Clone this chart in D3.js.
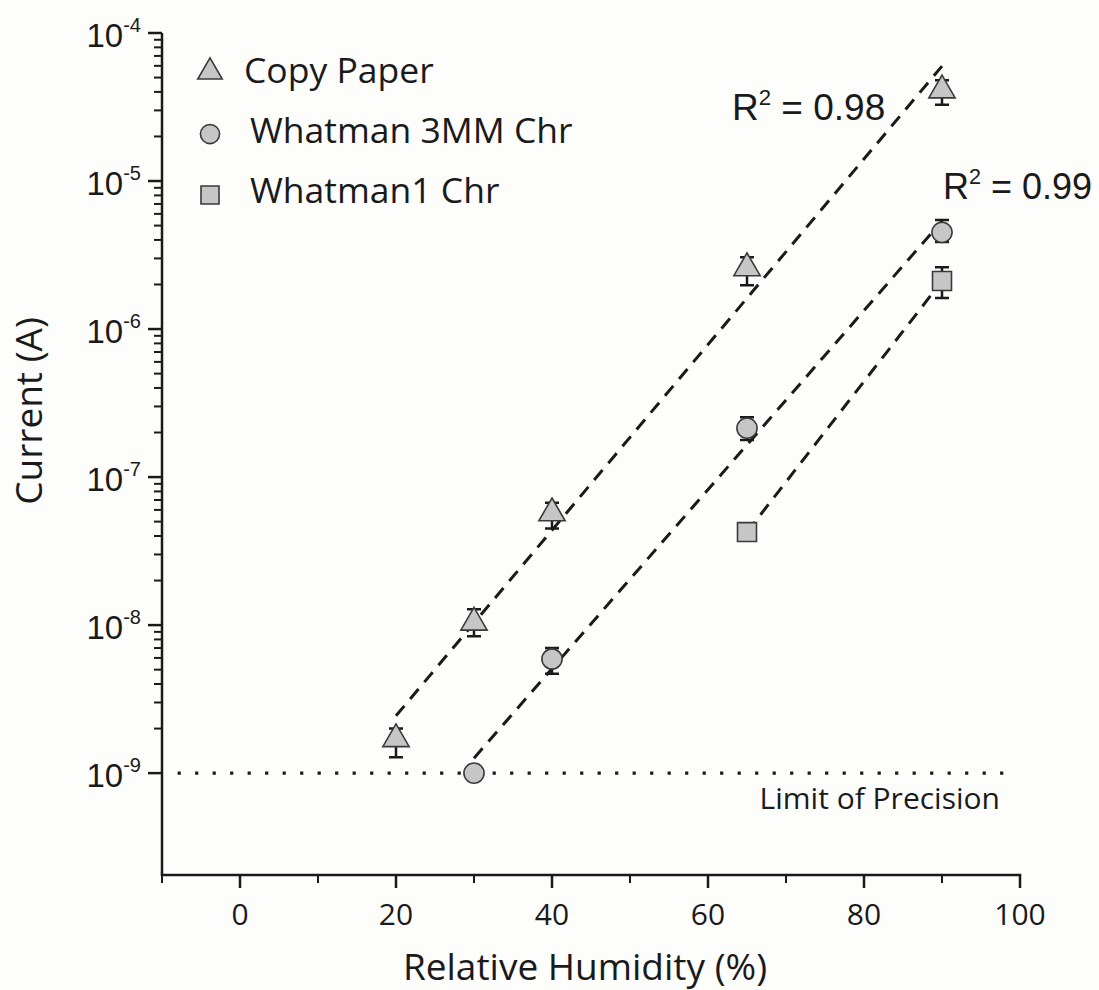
<!DOCTYPE html>
<html>
<head>
<meta charset="utf-8">
<script src="https://cdn.jsdelivr.net/npm/d3@7"></script>
<style>
  body { margin: 0; background: #fdfdfc; }
  svg { display: block; }
</style>
</head>
<body>
<script>
const width = 1099
const height = 990

// relative humidity (%) for each series
const copyRH = [20, 30, 40, 65, 90]
const whatman3RH = [30, 40, 65, 90]
const whatman1RH = [65, 90]

// current (A), with upper / lower error bar ends
const copyPaper = [1.7e-9, 1.04e-8, 5.7e-8, 2.58e-6, 4.1e-5]
const copyHi = [2.0e-9, 1.28e-8, 6.7e-8, 3.06e-6, 4.8e-5]
const copyLo = [1.28e-9, 8.4e-9, 4.5e-8, 1.98e-6, 3.27e-5]

const whatman3 = [1.0e-9, 5.9e-9, 2.14e-7, 4.5e-6]
const whatman3Hi = [1.1e-9, 7.0e-9, 2.54e-7, 5.45e-6]
const whatman3Lo = [0.9e-9, 4.7e-9, 1.78e-7, 3.87e-6]

const whatman1 = [4.25e-8, 2.11e-6]
const whatman1Hi = [4.8e-8, 2.62e-6]
const whatman1Lo = [3.8e-8, 1.62e-6]

const seriesNames = ['Copy Paper', 'Whatman 3MM Chr', 'Whatman1 Chr']
const limitOfPrecision = 1e-9
const rSquared = ['0.98', '0.99']

const xTicks = [0, 20, 40, 60, 80, 100]
const xMinor = [-10, 10, 30, 50, 70, 90]
const yExponents = [-9, -8, -7, -6, -5, -4]

let svg = d3.select('body').append('svg')
    .attr('width', width)
    .attr('height', height)

let x = d3.scaleLinear().domain([-10, 100]).range([162, 1020])
let y = d3.scaleLog().domain([2.05e-10, 1e-4]).range([875, 33])

const ink = '#1a1a1a'

// AXES
svg.append('line')
    .attr('x1', x(-10)).attr('x2', x(-10))
    .attr('y1', y.range()[0]).attr('y2', y.range()[1])
    .attr('stroke', ink).attr('stroke-width', 2.5)
svg.append('line')
    .attr('x1', x(-10) - 1.2).attr('x2', x(100) + 1.2)
    .attr('y1', y.range()[0]).attr('y2', y.range()[0])
    .attr('stroke', ink).attr('stroke-width', 2.5)

// y major + minor ticks
let yMinor = []
yExponents.slice(0, -1).forEach(e => {
    for (let m = 2; m <= 9; m++) yMinor.push(m * Math.pow(10, e))
})
svg.selectAll('.yminor').data(yMinor).enter().append('line')
    .attr('x1', x(-10) - 8).attr('x2', x(-10))
    .attr('y1', d => y(d)).attr('y2', d => y(d))
    .attr('stroke', ink).attr('stroke-width', 2)
svg.selectAll('.ymajor').data(yExponents).enter().append('line')
    .attr('x1', x(-10) - 14).attr('x2', x(-10))
    .attr('y1', d => y(Math.pow(10, d))).attr('y2', d => y(Math.pow(10, d)))
    .attr('stroke', ink).attr('stroke-width', 2.5)

let yLab = svg.selectAll('.ylab').data(yExponents).enter().append('text')
    .attr('x', 141)
    .attr('y', d => y(Math.pow(10, d)) + 14)
    .attr('text-anchor', 'end')
    .attr('font-family', 'Liberation Sans, Arial, sans-serif')
    .attr('fill', ink)
yLab.append('tspan').attr('font-size', 33).text('10')
yLab.append('tspan').attr('font-size', 20).attr('dy', -15).text(d => d)

// x ticks
svg.selectAll('.xminor').data(xMinor).enter().append('line')
    .attr('x1', d => x(d)).attr('x2', d => x(d))
    .attr('y1', y.range()[0]).attr('y2', y.range()[0] + 8)
    .attr('stroke', ink).attr('stroke-width', 2)
svg.selectAll('.xmajor').data(xTicks).enter().append('line')
    .attr('x1', d => x(d)).attr('x2', d => x(d))
    .attr('y1', y.range()[0]).attr('y2', y.range()[0] + 13)
    .attr('stroke', ink).attr('stroke-width', 2.5)
svg.selectAll('.xlab').data(xTicks).enter().append('text')
    .attr('x', d => x(d))
    .attr('y', 925)
    .attr('text-anchor', 'middle')
    .attr('font-family', 'Open Sans, sans-serif')
    .attr('font-size', 30)
    .attr('fill', ink)
    .text(d => d)

// axis titles
svg.append('text')
    .attr('x', 585).attr('y', 980)
    .attr('text-anchor', 'middle')
    .attr('font-family', 'Open Sans, sans-serif')
    .attr('font-size', 37)
    .attr('fill', ink)
    .text('Relative Humidity (%)')
svg.append('text')
    .attr('transform', 'translate(42,411) rotate(-90)')
    .attr('text-anchor', 'middle')
    .attr('font-family', 'Open Sans, sans-serif')
    .attr('font-size', 37)
    .attr('fill', ink)
    .text('Current (A)')

// LIMIT OF PRECISION
svg.append('line')
    .attr('x1', x(-8)).attr('x2', x(98))
    .attr('y1', y(limitOfPrecision)).attr('y2', y(limitOfPrecision))
    .attr('stroke', ink).attr('stroke-width', 3.2)
    .attr('stroke-dasharray', '3.2 14.3')
svg.append('text')
    .attr('x', 1000).attr('y', 809)
    .attr('text-anchor', 'end')
    .attr('font-family', 'Open Sans, sans-serif')
    .attr('font-size', 30)
    .attr('fill', ink)
    .text('Limit of Precision')

// FIT LINES (least squares on log10 current)
function fitLine(xs, ys) {
    let ly = ys.map(v => Math.log10(v))
    let mx = d3.mean(xs), my = d3.mean(ly)
    let sxy = d3.sum(xs, (v, i) => (v - mx) * (ly[i] - my))
    let sxx = d3.sum(xs, v => (v - mx) * (v - mx))
    let slope = sxy / sxx
    let a = d3.min(xs), b = d3.max(xs)
    return [[a, Math.pow(10, my + slope * (a - mx))], [b, Math.pow(10, my + slope * (b - mx))]]
}
let line = d3.line().x(d => x(d[0])).y(d => y(d[1]))
;[[copyRH, copyPaper], [whatman3RH, whatman3], [whatman1RH, whatman1]].forEach(s => {
    svg.append('path')
        .attr('d', line(fitLine(s[0], s[1])))
        .attr('fill', 'none')
        .attr('stroke', ink)
        .attr('stroke-width', 3)
        .attr('stroke-dasharray', '13 9')
})

// SERIES
const symbols = [d3.symbolTriangle, d3.symbolCircle, d3.symbolSquare]
const symbolSize = [300, 320, 360]
const series = [
    { rh: copyRH, v: copyPaper, hi: copyHi, lo: copyLo },
    { rh: whatman3RH, v: whatman3, hi: whatman3Hi, lo: whatman3Lo },
    { rh: whatman1RH, v: whatman1, hi: whatman1Hi, lo: whatman1Lo }
]

series.forEach((s, k) => {
    let g = svg.append('g')
    let pts = s.rh.map((r, i) => ({ rh: r, v: s.v[i], hi: s.hi[i], lo: s.lo[i] }))
    // error bars
    g.selectAll('.eb').data(pts).enter().append('path')
        .attr('d', d => {
            let cx = x(d.rh), t = y(d.hi), b = y(d.lo)
            return 'M' + (cx - 7) + ',' + t + 'H' + (cx + 7) + 'M' + cx + ',' + t + 'V' + b + 'M' + (cx - 7) + ',' + b + 'H' + (cx + 7)
        })
        .attr('fill', 'none').attr('stroke', ink).attr('stroke-width', 2.5)
    g.selectAll('.pt').data(pts).enter().append('path')
        .attr('transform', d => 'translate(' + x(d.rh) + ',' + y(d.v) + ')')
        .attr('d', d3.symbol().type(symbols[k]).size(symbolSize[k]))
        .attr('fill', '#c6c6c6')
        .attr('stroke', '#3a3a3a')
        .attr('stroke-width', 1.6)
})

// LEGEND
const legendY = [72, 134, 195]
const legendTextY = [83, 143, 203]
const legendTextX = [244, 250, 250]
seriesNames.forEach((name, k) => {
    svg.append('path')
        .attr('transform', 'translate(210,' + legendY[k] + ')')
        .attr('d', d3.symbol().type(symbols[k]).size(k === 0 ? 260 : symbolSize[k] * 0.9)())
        .attr('fill', '#c6c6c6')
        .attr('stroke', '#3a3a3a')
        .attr('stroke-width', 1.6)
    svg.append('text')
        .attr('x', legendTextX[k]).attr('y', legendTextY[k])
        .attr('font-family', 'Open Sans, sans-serif')
        .attr('font-size', 35.5)
        .attr('fill', ink)
        .text(name)
})

// R squared labels
const rPos = [[732, 120, 37], [943, 199, 36]]
rSquared.forEach((r, k) => {
    let t = svg.append('text')
        .attr('x', rPos[k][0]).attr('y', rPos[k][1])
        .attr('font-family', 'Liberation Sans, Arial, sans-serif')
        .attr('font-size', rPos[k][2])
        .attr('fill', ink)
    t.append('tspan').text('R')
    t.append('tspan').attr('font-size', rPos[k][2] * 0.6).attr('dy', -15).text('2')
    t.append('tspan').attr('dy', 15).text(' = ' + r)
})
</script>
</body>
</html>
